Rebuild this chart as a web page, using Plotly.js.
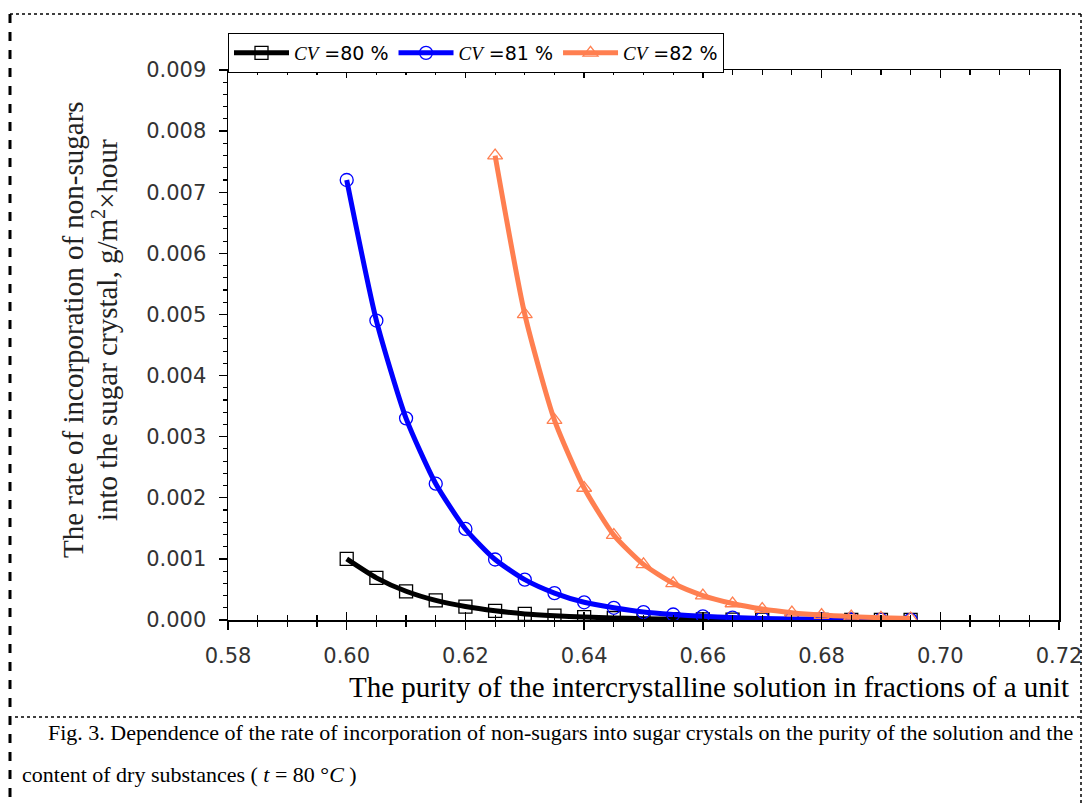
<!DOCTYPE html>
<html>
<head>
<meta charset="utf-8">
<script src="https://cdn.plot.ly/plotly-3.0.1.min.js"></script>
<style>
html,body{margin:0;padding:0;background:#fff;}
#chart{width:1085px;height:805px;}
</style>
</head>
<body>
<div id="chart"></div>
<script>
// ---- data ----
const purity = [0.600,0.605,0.610,0.615,0.620,0.625,0.630,0.635,0.640,0.645,0.650,0.655,0.660,0.665,0.670,0.675,0.680,0.685,0.690,0.695];
const purity82 = [0.625,0.630,0.635,0.640,0.645,0.650,0.655,0.660,0.665,0.670,0.675,0.680,0.685,0.690,0.695];
const rateCV80 = [0.00100,0.00069,0.00047,0.00032,0.00022,0.00015,0.00010,0.00007,0.000048,0.000033,0.000022,0.000015,0.000010,0.000007,0.000005,0.000003,0.000002,0.0000015,0.000001,0.0000007];
const rateCV81 = [0.00720,0.00490,0.00330,0.00223,0.00149,0.00099,0.00066,0.00044,0.00029,0.00020,0.00013,0.00009,0.00006,0.00004,0.000026,0.000018,0.000012,0.000008,0.000005,0.0000035];
const rateCV82 = [0.00760,0.00500,0.00327,0.00216,0.00139,0.00091,0.00060,0.00040,0.00027,0.00018,0.00012,0.00008,0.000055,0.000037,0.000025];
const seriesNames = ['=80 %','=81 %','=82 %'];
const xTitle = 'The purity of the intercrystalline solution in fractions of a unit';
const yTitle1 = 'The rate of incorporation of non-sugars';
const yTitle2 = 'into the sugar crystal, g/m<sup>2</sup>×hour';
const caption1 = 'Fig. 3. Dependence of the rate of incorporation of non-sugars into sugar crystals on the purity of the solution and the';
const caption2 = 'content of dry substances ( <i>t</i> = 80 °<i>C</i> )';

// ---- layout geometry ----
const W = 1085, H = 805;
const M = {l:228, r:26, t:70, b:185};
const PW = W - M.l - M.r, PH = H - M.t - M.b;
const px = v => (v - M.l) / PW;
const py = v => (H - M.b - v) / PH;

const cvLabel = s => '<span style="font-family:\'Liberation Serif\'"><i>CV</i></span> ' + s;
const colors = ['#000000','#0000FF','#FF7F50'];
const symbols = ['square-open','circle-open','triangle-up-open'];
const xsets = [purity, purity, purity82];
const ysets = [rateCV80, rateCV81, rateCV82];

const traces = ysets.map((ys,i)=>({
  x: xsets[i], y: ys, type:'scatter', mode:'lines+markers',
  name: cvLabel(seriesNames[i]),
  line:{color:colors[i], width:5, shape:'spline', smoothing:0.6},
  marker:{symbol:symbols[i], size:13, color:colors[i], line:{width:1.3, color:colors[i]}},
  hoverinfo:'x+y'
}));
traces.push({x:[0.58], y:[-1], xaxis:'x2', type:'scatter', mode:'markers', showlegend:false, hoverinfo:'skip'});
traces.push({x:[0.58], y:[-1], xaxis:'x3', type:'scatter', mode:'markers', showlegend:false, hoverinfo:'skip'});

const tickFont = {family:'DejaVu Sans', size:21, color:'#333'};
const serif = 'Liberation Serif';

const layout = {
  width:W, height:H,
  margin:M,
  paper_bgcolor:'#fff', plot_bgcolor:'#fff',
  showlegend:true,
  legend:{orientation:'h', x:0, xanchor:'left', y:py(33), yanchor:'top',
    bordercolor:'#000', borderwidth:1, bgcolor:'#fff',
    font:{family:'DejaVu Sans', size:19, color:'#000'}, itemwidth:55,
    tracegroupgap:0, traceorder:'normal'},
  xaxis:{range:[0.58,0.72], dtick:0.02, tick0:0.58, tickformat:'.2f',
    ticks:'outside', ticklen:8, tickwidth:1.3, tickcolor:'#000',
    minor:{dtick:0.005, ticks:'outside', ticklen:5, tickwidth:1.2, tickcolor:'#000'},
    showline:true, linecolor:'#000', linewidth:1.5, showgrid:false, zeroline:false,
    tickfont:tickFont, ticklabelstandoff:8},
  xaxis2:{overlaying:'x', side:'top', anchor:'y', range:[0.58,0.72], dtick:0.02, tick0:0.58,
    ticks:'inside', ticklen:8, tickwidth:1.3, tickcolor:'#000',
    minor:{dtick:0.005, ticks:'inside', ticklen:5, tickwidth:1.2, tickcolor:'#000'},
    showline:true, linecolor:'#000', linewidth:1.5, showgrid:false, zeroline:false,
    showticklabels:false},
  xaxis3:{overlaying:'x', side:'bottom', anchor:'y', range:[0.58,0.72], dtick:0.02, tick0:0.58,
    ticks:'inside', ticklen:8, tickwidth:1.3, tickcolor:'#000',
    minor:{dtick:0.005, ticks:'inside', ticklen:5, tickwidth:1.2, tickcolor:'#000'},
    showline:false, showgrid:false, zeroline:false, showticklabels:false},
  yaxis:{range:[0,0.009], dtick:0.001, tick0:0, tickformat:'.3f',
    ticks:'outside', ticklen:8, tickwidth:1.3, tickcolor:'#000',
    minor:{dtick:0.0002, ticks:'outside', ticklen:4, tickwidth:1.2, tickcolor:'#000'},
    showline:true, mirror:true, linecolor:'#000', linewidth:1.5, showgrid:false, zeroline:false,
    tickfont:tickFont, ticklabelstandoff:8},
  annotations:[
    {xref:'paper', yref:'paper', x:px(73), y:py(330), xanchor:'center', yanchor:'middle',
     textangle:-90, text:yTitle1, showarrow:false,
     font:{family:serif, size:29, color:'#222'}},
    {xref:'paper', yref:'paper', x:px(105), y:py(330), xanchor:'center', yanchor:'middle',
     textangle:-90, text:yTitle2, showarrow:false,
     font:{family:serif, size:29, color:'#222'}},
    {xref:'paper', yref:'paper', x:px(709), y:py(687), xanchor:'center', yanchor:'middle',
     text:xTitle, showarrow:false, font:{family:serif, size:29, color:'#000'}},
    {xref:'paper', yref:'paper', x:px(46), y:py(732), xanchor:'left', yanchor:'middle',
     text:caption1, showarrow:false, font:{family:serif, size:22, color:'#000'}},
    {xref:'paper', yref:'paper', x:px(20), y:py(774), xanchor:'left', yanchor:'middle',
     text:caption2, showarrow:false, font:{family:serif, size:22, color:'#000'}}
  ],
  shapes:[
    {type:'line', xref:'paper', yref:'paper', x0:px(10), x1:px(10), y0:py(14), y1:py(805),
     line:{color:'#000', width:3, dash:'dash'}},
    {type:'line', xref:'paper', yref:'paper', x0:px(10), x1:px(1081), y0:py(14), y1:py(14),
     line:{color:'#000', width:1.5, dash:'dot'}},
    {type:'line', xref:'paper', yref:'paper', x0:px(1081), x1:px(1081), y0:py(14), y1:py(805),
     line:{color:'#000', width:1.5, dash:'dot'}},
    {type:'line', xref:'paper', yref:'paper', x0:px(15), x1:px(1081), y0:py(717), y1:py(717),
     line:{color:'#000', width:1.5, dash:'dot'}}
  ]
};

Plotly.newPlot('chart', traces, layout, {displayModeBar:false, staticPlot:true});
</script>
</body>
</html>
